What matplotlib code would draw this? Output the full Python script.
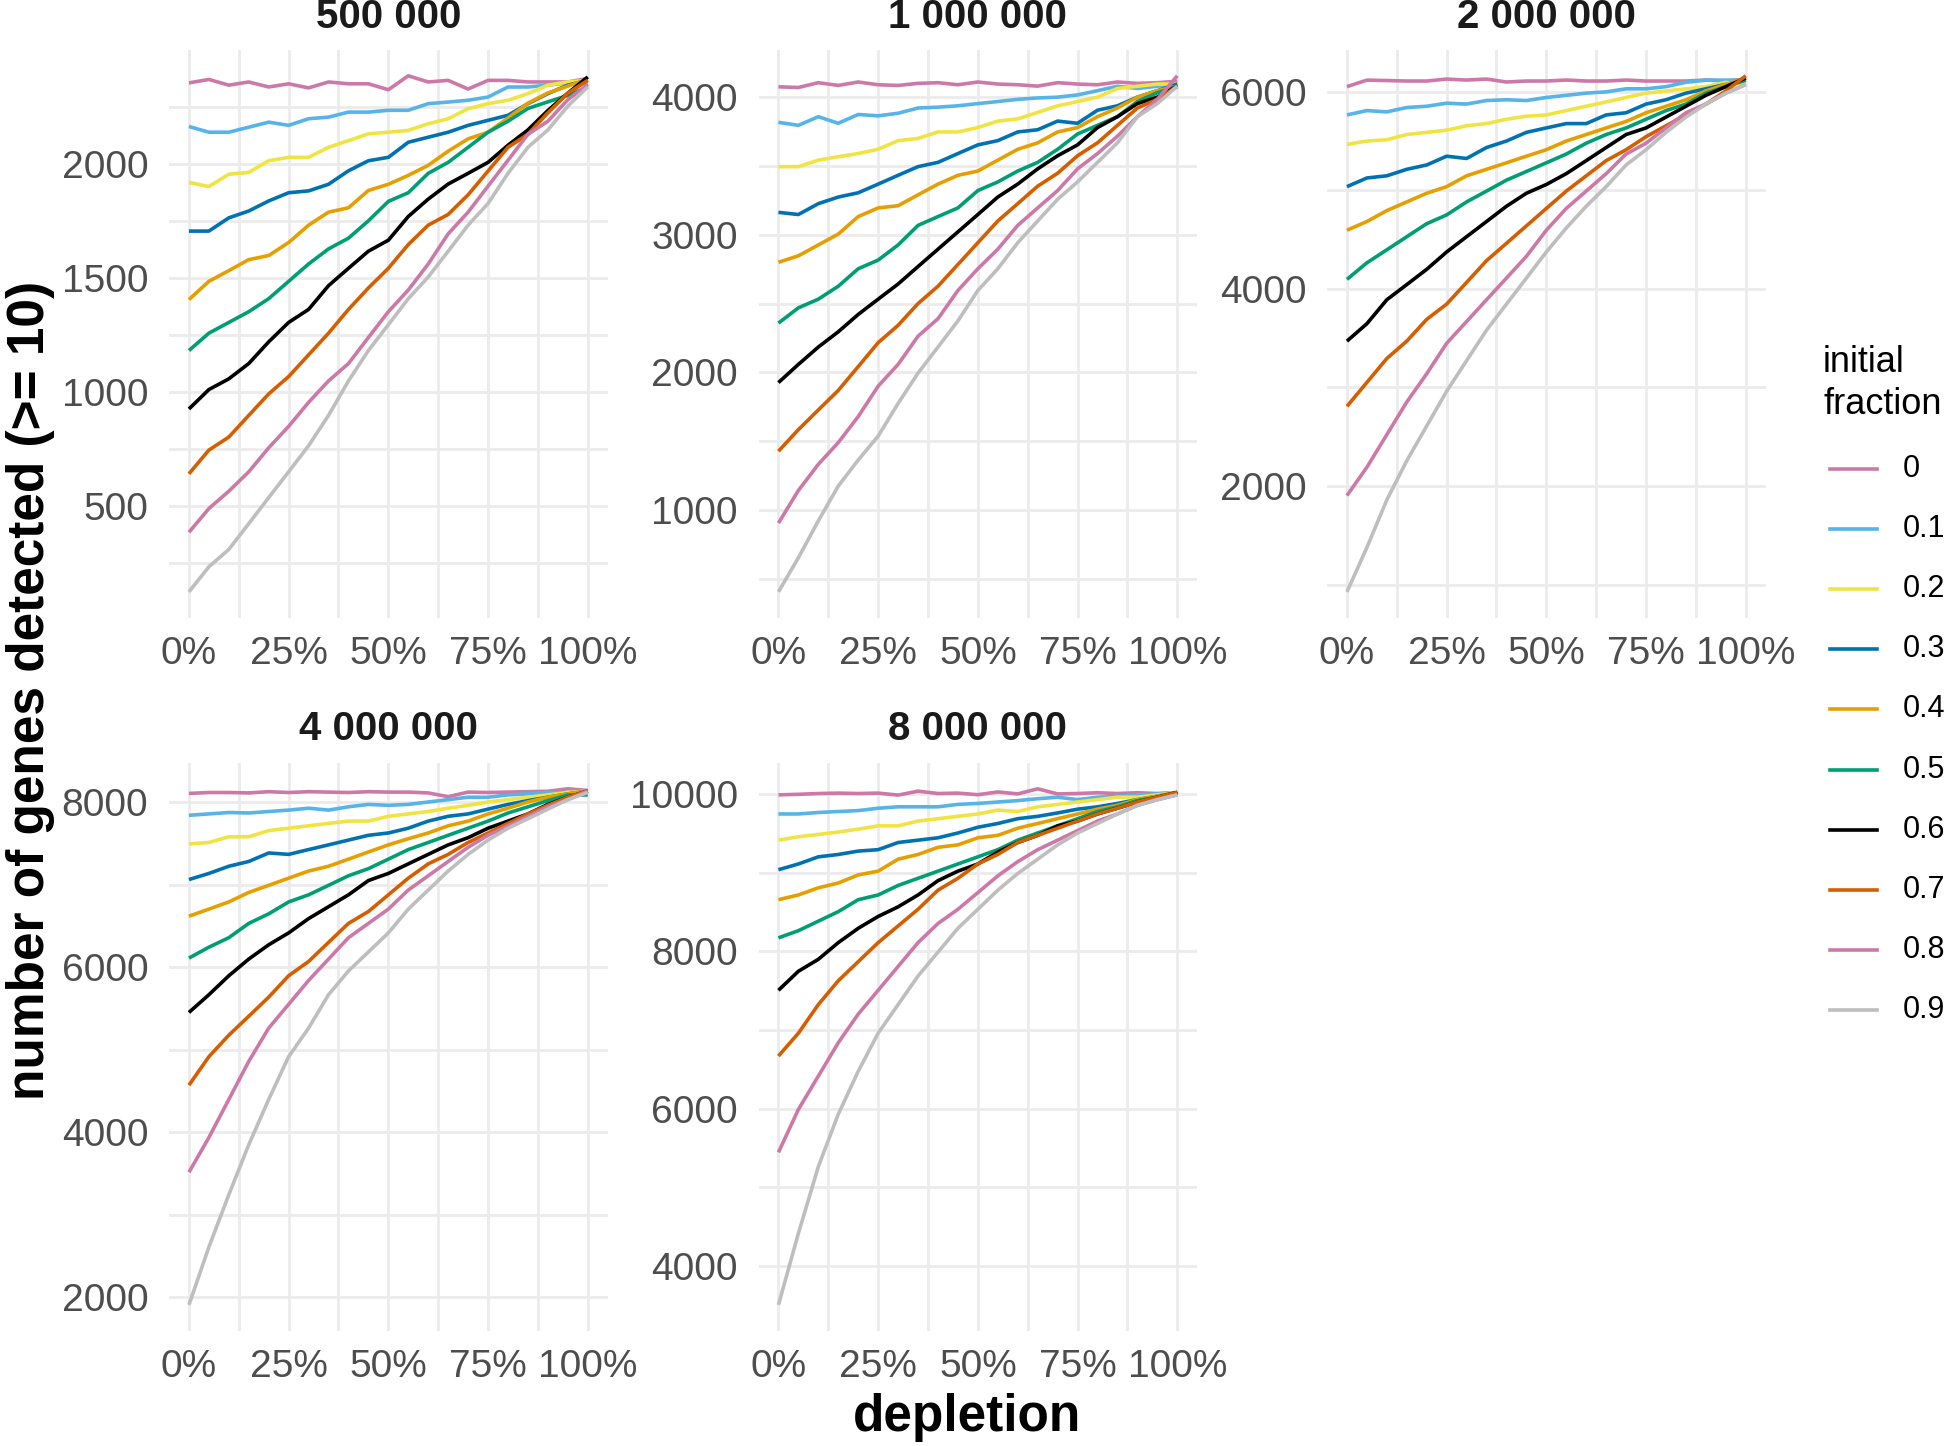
import matplotlib
matplotlib.use("Agg")
import matplotlib.pyplot as plt
from matplotlib.ticker import MultipleLocator, FixedLocator
from matplotlib.lines import Line2D

plt.rcParams['font.family'] = ['Liberation Sans', 'DejaVu Sans']

# ---------------- data ----------------
depletion = [0.00, 0.05, 0.10, 0.15, 0.20, 0.25, 0.30, 0.35, 0.40, 0.45, 0.50,
             0.55, 0.60, 0.65, 0.70, 0.75, 0.80, 0.85, 0.90, 0.95, 1.00]
fractions = ["0", "0.1", "0.2", "0.3", "0.4", "0.5", "0.6", "0.7", "0.8", "0.9"]
panel_titles = ["500 000", "1 000 000", "2 000 000", "4 000 000", "8 000 000"]
x_tick_values = [0.0, 0.25, 0.5, 0.75, 1.0]
x_tick_labels = ["0%", "25%", "50%", "75%", "100%"]
y_major_steps = [500, 1000, 2000, 2000, 2000]

genes_500k = [
    [2354, 2369, 2344, 2358, 2336, 2350, 2332, 2358, 2350, 2350, 2324, 2385, 2358, 2365, 2327, 2365, 2365, 2358, 2358, 2358, 2373],
    [2163, 2138, 2138, 2160, 2182, 2168, 2197, 2204, 2226, 2226, 2234, 2234, 2263, 2270, 2278, 2292, 2336, 2336, 2344, 2354, 2350],
    [1918, 1900, 1954, 1962, 2013, 2028, 2028, 2072, 2101, 2131, 2138, 2146, 2175, 2197, 2241, 2263, 2278, 2307, 2344, 2358, 2365],
    [1705, 1705, 1763, 1793, 1837, 1873, 1881, 1910, 1969, 2013, 2028, 2094, 2116, 2138, 2168, 2190, 2212, 2263, 2307, 2344, 2365],
    [1405, 1485, 1532, 1580, 1598, 1655, 1731, 1788, 1807, 1883, 1910, 1949, 1993, 2055, 2109, 2138, 2200, 2265, 2310, 2340, 2370],
    [1182, 1258, 1305, 1352, 1409, 1485, 1561, 1627, 1674, 1750, 1835, 1873, 1958, 2006, 2072, 2138, 2186, 2242, 2271, 2299, 2337],
    [926, 1011, 1058, 1125, 1220, 1305, 1362, 1466, 1542, 1617, 1665, 1769, 1845, 1911, 1958, 2006, 2081, 2148, 2233, 2309, 2380],
    [642, 746, 803, 898, 992, 1068, 1163, 1258, 1362, 1456, 1542, 1646, 1731, 1778, 1864, 1968, 2072, 2129, 2223, 2309, 2365],
    [386, 490, 566, 651, 756, 850, 955, 1049, 1125, 1239, 1352, 1447, 1561, 1693, 1788, 1902, 2015, 2129, 2186, 2280, 2347],
    [125, 235, 311, 424, 538, 651, 765, 898, 1049, 1182, 1295, 1409, 1504, 1617, 1731, 1826, 1958, 2072, 2148, 2252, 2337],
]

genes_1m = [
    [4075, 4070, 4105, 4085, 4110, 4090, 4085, 4100, 4105, 4090, 4110, 4095, 4090, 4080, 4105, 4095, 4090, 4110, 4100, 4105, 4115],
    [3817, 3795, 3858, 3810, 3874, 3864, 3883, 3921, 3927, 3937, 3953, 3968, 3984, 3994, 4000, 4016, 4047, 4079, 4063, 4079, 4095],
    [3495, 3495, 3542, 3567, 3590, 3621, 3684, 3700, 3747, 3747, 3779, 3826, 3842, 3889, 3937, 3968, 4000, 4063, 4079, 4095, 4095],
    [3163, 3147, 3226, 3274, 3305, 3368, 3432, 3495, 3526, 3590, 3653, 3684, 3747, 3763, 3826, 3810, 3905, 3937, 4000, 4047, 4095],
    [2800, 2847, 2926, 3005, 3132, 3195, 3211, 3290, 3368, 3432, 3463, 3542, 3621, 3668, 3747, 3779, 3858, 3921, 4000, 4047, 4079],
    [2358, 2469, 2532, 2626, 2753, 2816, 2926, 3068, 3132, 3195, 3321, 3384, 3463, 3526, 3621, 3732, 3795, 3858, 3968, 4032, 4079],
    [1926, 2058, 2184, 2295, 2421, 2532, 2642, 2769, 2895, 3021, 3147, 3274, 3368, 3479, 3574, 3653, 3779, 3858, 3953, 4000, 4079],
    [1427, 1584, 1727, 1869, 2042, 2216, 2342, 2500, 2626, 2784, 2942, 3100, 3226, 3353, 3447, 3574, 3668, 3795, 3921, 3984, 4079],
    [905, 1142, 1332, 1490, 1679, 1900, 2058, 2263, 2390, 2595, 2753, 2895, 3068, 3195, 3321, 3479, 3590, 3716, 3858, 3984, 4155],
    [405, 653, 921, 1174, 1363, 1537, 1774, 1995, 2184, 2374, 2595, 2753, 2942, 3100, 3258, 3384, 3526, 3668, 3858, 3953, 4079],
]

genes_2m = [
    [6053, 6119, 6115, 6110, 6110, 6130, 6120, 6130, 6100, 6110, 6110, 6120, 6110, 6110, 6120, 6110, 6110, 6110, 6120, 6110, 6130],
    [5766, 5810, 5797, 5841, 5854, 5885, 5876, 5912, 5920, 5912, 5943, 5965, 5987, 6000, 6031, 6031, 6053, 6097, 6119, 6119, 6119],
    [5466, 5501, 5514, 5567, 5589, 5611, 5656, 5678, 5722, 5753, 5766, 5810, 5854, 5898, 5943, 5987, 6009, 6031, 6053, 6097, 6075],
    [5038, 5126, 5148, 5214, 5258, 5347, 5324, 5435, 5501, 5589, 5634, 5678, 5678, 5766, 5788, 5876, 5920, 5987, 6031, 6075, 6119],
    [4596, 4684, 4795, 4883, 4971, 5038, 5148, 5214, 5280, 5347, 5413, 5501, 5567, 5634, 5700, 5788, 5854, 5920, 6009, 6075, 6141],
    [4097, 4265, 4397, 4530, 4662, 4751, 4883, 4993, 5104, 5192, 5280, 5369, 5479, 5567, 5634, 5722, 5810, 5876, 5987, 6053, 6119],
    [3470, 3647, 3890, 4044, 4199, 4375, 4530, 4684, 4839, 4971, 5060, 5170, 5302, 5435, 5567, 5634, 5744, 5854, 5965, 6053, 6141],
    [2808, 3051, 3294, 3470, 3691, 3846, 4066, 4287, 4463, 4640, 4817, 4993, 5148, 5302, 5413, 5545, 5656, 5766, 5876, 6009, 6163],
    [1903, 2190, 2521, 2852, 3139, 3448, 3669, 3890, 4110, 4331, 4596, 4817, 4993, 5170, 5369, 5479, 5634, 5788, 5876, 5987, 6075],
    [925, 1375, 1859, 2256, 2609, 2962, 3272, 3581, 3846, 4110, 4375, 4618, 4839, 5038, 5258, 5413, 5589, 5744, 5876, 5987, 6075],
]

genes_4m = [
    [8104, 8115, 8115, 8110, 8125, 8115, 8125, 8120, 8115, 8125, 8120, 8120, 8110, 8065, 8120, 8115, 8120, 8125, 8130, 8160, 8140],
    [7839, 7856, 7873, 7867, 7885, 7902, 7925, 7902, 7942, 7971, 7960, 7971, 8000, 8029, 8058, 8058, 8086, 8098, 8115, 8115, 8133],
    [7493, 7510, 7579, 7579, 7654, 7683, 7712, 7741, 7769, 7769, 7827, 7856, 7885, 7925, 7960, 8000, 8029, 8058, 8086, 8115, 8133],
    [7061, 7135, 7222, 7280, 7383, 7366, 7424, 7481, 7539, 7597, 7625, 7683, 7769, 7827, 7856, 7914, 7971, 8017, 8058, 8098, 8133],
    [6617, 6703, 6790, 6905, 6991, 7078, 7164, 7222, 7308, 7395, 7481, 7556, 7625, 7712, 7769, 7856, 7925, 8000, 8058, 8098, 8133],
    [6110, 6242, 6357, 6530, 6646, 6790, 6876, 6991, 7107, 7193, 7308, 7424, 7510, 7597, 7683, 7769, 7867, 7942, 8017, 8086, 8086],
    [5452, 5666, 5896, 6098, 6271, 6415, 6588, 6732, 6876, 7049, 7135, 7251, 7366, 7481, 7568, 7683, 7769, 7856, 7971, 8058, 8133],
    [4571, 4916, 5176, 5406, 5637, 5896, 6069, 6300, 6530, 6674, 6876, 7078, 7251, 7366, 7510, 7625, 7741, 7856, 7960, 8058, 8133],
    [3516, 3937, 4398, 4859, 5262, 5550, 5839, 6098, 6357, 6530, 6703, 6934, 7107, 7280, 7452, 7597, 7712, 7827, 7942, 8029, 8133],
    [1910, 2611, 3245, 3850, 4398, 4916, 5262, 5666, 5954, 6184, 6415, 6703, 6934, 7164, 7366, 7539, 7683, 7798, 7914, 8029, 8115],
]

genes_8m = [
    [9988, 9995, 10005, 10010, 10005, 10010, 9985, 10035, 10005, 10010, 9990, 10025, 10000, 10065, 10000, 10005, 10015, 10005, 10015, 10005, 10015],
    [9745, 9745, 9764, 9776, 9788, 9818, 9836, 9836, 9836, 9867, 9879, 9897, 9915, 9939, 9958, 9927, 9958, 9970, 9988, 10000, 10018],
    [9412, 9455, 9485, 9515, 9552, 9594, 9594, 9655, 9685, 9715, 9745, 9794, 9776, 9836, 9867, 9897, 9927, 9958, 9958, 9988, 10018],
    [9036, 9109, 9200, 9230, 9273, 9291, 9382, 9412, 9442, 9503, 9576, 9624, 9685, 9715, 9758, 9806, 9836, 9879, 9927, 9970, 10018],
    [8655, 8715, 8806, 8867, 8970, 9018, 9170, 9230, 9321, 9352, 9442, 9473, 9564, 9624, 9685, 9745, 9806, 9855, 9927, 9970, 10018],
    [8170, 8261, 8382, 8503, 8655, 8715, 8836, 8927, 9018, 9109, 9200, 9291, 9412, 9503, 9594, 9685, 9776, 9836, 9915, 9958, 10018],
    [7503, 7745, 7897, 8109, 8291, 8442, 8564, 8715, 8897, 9018, 9109, 9261, 9382, 9473, 9594, 9655, 9745, 9818, 9897, 9958, 10018],
    [6667, 6958, 7321, 7624, 7867, 8109, 8321, 8533, 8776, 8927, 9109, 9230, 9382, 9473, 9564, 9655, 9745, 9818, 9897, 9958, 10018],
    [5442, 5988, 6412, 6836, 7200, 7503, 7806, 8109, 8352, 8533, 8745, 8958, 9139, 9291, 9412, 9533, 9655, 9745, 9855, 9927, 9988],
    [3503, 4412, 5261, 5927, 6473, 6958, 7321, 7685, 7988, 8291, 8533, 8776, 8988, 9170, 9352, 9503, 9624, 9745, 9855, 9927, 9988],
]

panels = [genes_500k, genes_1m, genes_2m, genes_4m, genes_8m]

# ---------------- style ----------------
colors = ["#CC79A7", "#56B4E9", "#F0E442", "#0072B2", "#E69F00",
          "#009E73", "#000000", "#D55E00", "#CC79A7", "#BEBEBE"]
W, H = 1945, 1446
fig = plt.figure(figsize=(W / 100, H / 100), dpi=100)
fig.patch.set_facecolor("white")

col_left = [169, 758.5, 1327]
row_top = [50, 763]
pw, ph = 438.7, 567.7
grid_col = "#EBEBEB"
tick_col = "#4D4D4D"

for i, data in enumerate(panels):
    r, c = divmod(i, 3)
    left, top = col_left[c], row_top[r]
    ax = fig.add_axes([left / W, 1 - (top + ph) / H, pw / W, ph / H])
    for j, series in enumerate(data):
        ax.plot(depletion, series, color=colors[j], lw=2.6, solid_capstyle="butt", zorder=3)
    lo = min(min(s) for s in data)
    hi = max(max(s) for s in data)
    d = hi - lo
    ax.set_ylim(lo - 0.05 * d, hi + 0.05 * d)
    ax.set_xlim(-0.05, 1.05)
    ax.xaxis.set_major_locator(FixedLocator(x_tick_values))
    ax.set_xticklabels(x_tick_labels)
    ax.xaxis.set_minor_locator(FixedLocator([0.125, 0.375, 0.625, 0.875]))
    step = y_major_steps[i]
    ax.yaxis.set_major_locator(MultipleLocator(step))
    ax.yaxis.set_minor_locator(MultipleLocator(step / 2))
    ax.grid(which="major", color=grid_col, lw=2.0)
    ax.grid(which="minor", color=grid_col, lw=2.0)
    ax.set_axisbelow(True)
    for s in ax.spines.values():
        s.set_visible(False)
    ax.tick_params(which="both", length=0)
    ax.tick_params(axis="x", which="major", labelsize=28, labelcolor=tick_col, pad=13)
    ax.tick_params(axis="y", which="major", labelsize=28, labelcolor=tick_col, pad=15)
    # strip title
    title_y = 17 if r == 0 else 729
    fig.text((left + pw / 2) / W, 1 - title_y / H, panel_titles[i], ha="center", va="center",
             fontsize=29, fontweight="bold", color="#1A1A1A")

# axis titles
fig.text(967 / W, 1 - 1417 / H, "depletion", ha="center", va="center",
         fontsize=37, fontweight="bold", color="black")
fig.text(31 / W, 1 - 690 / H, "number of genes detected (>= 10)", ha="center", va="center",
         rotation=90, fontsize=37, fontweight="bold", color="black")

# legend
fig.text(1823 / W, 1 - 362 / H, "initial", ha="left", va="center", fontsize=26, color="black")
fig.text(1823 / W, 1 - 404 / H, "fraction", ha="left", va="center", fontsize=26, color="black")
for j, lab in enumerate(fractions):
    yk = 469 + 60.1 * j
    fig.add_artist(Line2D([1830 / W, 1877 / W], [1 - yk / H, 1 - yk / H],
                          transform=fig.transFigure, color=colors[j], lw=2.6))
    fig.text(1903 / W, 1 - yk / H, lab, ha="left", va="center", fontsize=22, color="black")

fig.savefig("out.png", dpi=100, facecolor="white")
